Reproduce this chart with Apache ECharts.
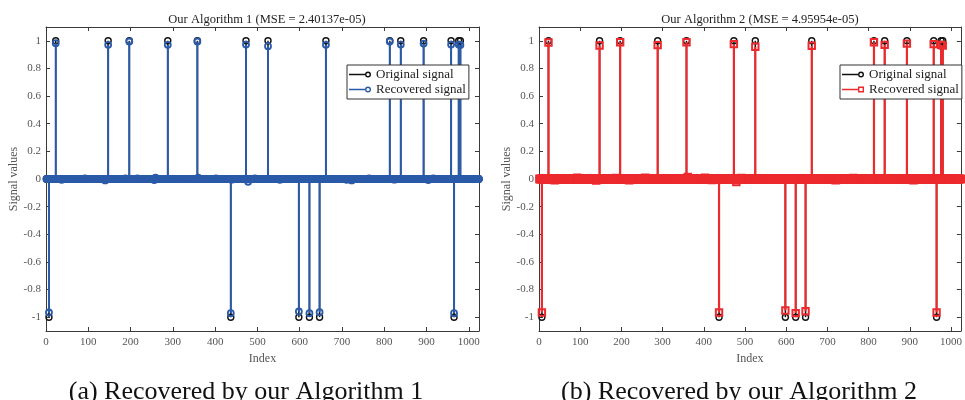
<!DOCTYPE html>
<html>
<head>
<meta charset="utf-8">
<script src="https://cdn.jsdelivr.net/npm/echarts@6.0.0/dist/echarts.min.js"></script>
<style>
  html, body { margin: 0; padding: 0; background: #fff; }
  #main { width: 965px; height: 400px; }
</style>
</head>
<body>
<div id="main"></div>
<script>
// signal length
var N = 1024;
// positions of the non-zero entries of the sparse signal
var spikeIdx = [7, 23, 147, 197, 288, 358, 437, 473, 525, 598, 623, 647, 662, 813, 839, 893, 958, 965, 976, 980];
var origVals = [-1, 1, 1, 1, 1, 1, -1, 1, 1, -1, -1, -1, 1, 1, 1, 1, 1, -1, 1, 1];
// recovered amplitudes at the spikes
var rec1Spikes = [-0.966, 0.983, 0.971, 0.995, 0.971, 0.995, -0.971, 0.973, 0.961, -0.959, -0.971, -0.964, 0.971, 0.995, 0.973, 0.98, 0.973, -0.971, 0.973, 0.97];
var rec2Spikes = [-0.966, 0.988, 0.966, 0.99, 0.969, 0.99, -0.966, 0.976, 0.957, -0.952, -0.971, -0.957, 0.964, 0.99, 0.971, 0.98, 0.976, -0.966, 0.971, 0.966];
// small residuals off the support
var noise1Idx = [37, 92, 140, 188, 216, 256, 259, 360, 402, 439, 478, 494, 553, 711, 723, 764, 824, 904, 916];
var noise1Vals = [-0.006, 0.005, -0.01, 0.005, 0.005, -0.008, 0.01, 0.01, 0.005, -0.005, -0.02, 0.005, -0.006, -0.006, -0.01, 0.005, -0.005, -0.008, 0.005];
var noise2Idx = [38, 93, 139, 188, 219, 258, 310, 361, 403, 420, 479, 491, 720, 763, 909];
var noise2Vals = [-0.01, 0.01, -0.012, 0.008, -0.01, 0.01, 0.005, 0.014, 0.01, -0.008, -0.022, 0.008, -0.01, 0.008, -0.01];

var titles = ['Our Algorithm 1 (MSE = 2.40137e-05)', 'Our Algorithm 2 (MSE = 4.95954e-05)'];
var captions = ['(a) Recovered by our Algorithm 1', '(b) Recovered by our Algorithm 2'];

var BLUE = '#2b5ba8';
var RED = '#ec2a2e';
var AXIS = '#3a3a3a';
var LABEL = '#555';
var SERIF = 'Liberation Serif';

function buildSignal(idx, vals, nIdx, nVals) {
    var s = [];
    for (var i = 0; i < N; i++) s.push(0);
    if (nIdx) {
        for (var k = 0; k < nIdx.length; k++) s[nIdx[k] - 1] = nVals[k];
    }
    for (var j = 0; j < idx.length; j++) s[idx[j] - 1] = vals[j];
    return s.map(function (v, i) { return [i + 1, v]; });
}

var orig = buildSignal(spikeIdx, origVals);
var rec1 = buildSignal(spikeIdx, rec1Spikes, noise1Idx, noise1Vals);
var rec2 = buildSignal(spikeIdx, rec2Spikes, noise2Idx, noise2Vals);

// stem: line from baseline to value + marker
function stem(color, lw, marker, mlw) {
    return function (params, api) {
        var x = api.value(0), y = api.value(1);
        var p0 = api.coord([x, 0]);
        var p1 = api.coord([x, y]);
        var kids = [];
        if (y !== 0) {
            kids.push({ type: 'line', shape: { x1: p0[0], y1: p0[1], x2: p1[0], y2: p1[1] },
                style: { stroke: color, lineWidth: lw } });
        }
        if (marker === 'circle') {
            kids.push({ type: 'circle', shape: { cx: p1[0], cy: p1[1], r: 3 },
                style: { fill: 'none', stroke: color, lineWidth: mlw } });
        } else {
            kids.push({ type: 'rect', shape: { x: p1[0] - 3.2, y: p1[1] - 3.2, width: 6.4, height: 6.4 },
                style: { fill: 'none', stroke: color, lineWidth: mlw } });
        }
        return { type: 'group', children: kids };
    };
}

var iconCircle = 'path://M0,3.3 L16,3.3 L16,4.7 L0,4.7 Z M16,4 A3,3 0 1,1 22,4 A3,3 0 1,1 16,4 Z M17.4,4 A1.6,1.6 0 1,0 20.6,4 A1.6,1.6 0 1,0 17.4,4 Z';
var iconSquare = 'path://M0,3.3 L16,3.3 L16,4.7 L0,4.7 Z M16,1 L22,1 L22,7 L16,7 Z M17.4,2.4 L17.4,5.6 L20.6,5.6 L20.6,2.4 Z';

var gridLefts = [46, 539];

function xAxes(g) {
    var base = {
        gridIndex: g, type: 'value', min: 0, max: N, interval: 100,
        axisLine: { show: true, onZero: false, lineStyle: { color: AXIS, width: 1 } },
        axisTick: { show: true, inside: true, length: 4, lineStyle: { color: AXIS } },
        splitLine: { show: false }
    };
    var bottom = Object.assign({}, base, {
        position: 'bottom',
        name: 'Index', nameLocation: 'middle', nameGap: 19,
        nameTextStyle: { fontFamily: SERIF, fontSize: 12, color: LABEL },
        axisLabel: {
            fontFamily: SERIF, fontSize: 11, color: LABEL, margin: 6,
            formatter: function (v) { return v % 100 === 0 ? String(v) : ''; }
        }
    });
    var top = Object.assign({}, base, { position: 'top', axisLabel: { show: false } });
    return [bottom, top];
}

function yAxes(g) {
    var base = {
        gridIndex: g, type: 'value', min: -1.1, max: 1.1, splitNumber: 11,
        axisLine: { show: true, onZero: false, lineStyle: { color: AXIS, width: 1 } },
        axisTick: { show: true, inside: true, length: 4, lineStyle: { color: AXIS } },
        splitLine: { show: false }
    };
    var left = Object.assign({}, base, {
        position: 'left',
        name: 'Signal values', nameLocation: 'middle', nameGap: 26,
        nameTextStyle: { fontFamily: SERIF, fontSize: 12, color: LABEL },
        axisLabel: {
            fontFamily: SERIF, fontSize: 11, color: LABEL, margin: 5,
            formatter: function (v) {
                if (Math.abs(Math.abs(v) - 1.1) < 1e-6) return '';
                return String(Math.round(v * 10) / 10);
            }
        }
    });
    var right = Object.assign({}, base, { position: 'right', axisLabel: { show: false } });
    return [left, right];
}

function legendFor(g, items) {
    return {
        orient: 'vertical',
        left: gridLefts[g] + 301, top: 65,
        padding: [3, 3, 3, 2],
        itemGap: 2,
        itemWidth: 22, itemHeight: 6,
        selectedMode: false,
        backgroundColor: '#fff',
        borderColor: '#333', borderWidth: 1, borderRadius: 0,
        textStyle: { fontFamily: SERIF, fontSize: 13, color: '#222' },
        formatter: function (n) { return n.replace(' (b)', ''); },
        data: items
    };
}

var chart = echarts.init(document.getElementById('main'), null, { renderer: 'canvas' });

var option = {
    animation: false,
    backgroundColor: '#fff',
    title: [
        { text: titles[0], left: 262, top: 8, textAlign: 'center',
          textStyle: { fontFamily: SERIF, fontSize: 12.5, fontWeight: 'normal', color: '#222' } },
        { text: titles[1], left: 755, top: 8, textAlign: 'center',
          textStyle: { fontFamily: SERIF, fontSize: 12.5, fontWeight: 'normal', color: '#222' } },
        { text: captions[0], left: 241, top: 374, textAlign: 'center',
          textStyle: { fontFamily: SERIF, fontSize: 26, fontWeight: 'normal', color: '#111' } },
        { text: captions[1], left: 734, top: 374, textAlign: 'center',
          textStyle: { fontFamily: SERIF, fontSize: 26, fontWeight: 'normal', color: '#111' } }
    ],
    grid: [
        { left: gridLefts[0], top: 27, width: 433, height: 304 },
        { left: gridLefts[1], top: 27, width: 433, height: 304 }
    ],
    xAxis: xAxes(0).concat(xAxes(1)),
    yAxis: yAxes(0).concat(yAxes(1)),
    legend: [
        legendFor(0, [
            { name: 'Original signal', icon: iconCircle },
            { name: 'Recovered signal', icon: iconCircle }
        ]),
        legendFor(1, [
            { name: 'Original signal (b)', icon: iconCircle },
            { name: 'Recovered signal (b)', icon: iconSquare }
        ])
    ],
    series: [
        { name: 'Original signal', type: 'custom', xAxisIndex: 0, yAxisIndex: 0,
          itemStyle: { color: '#111' }, renderItem: stem('#111', 1.5, 'circle', 1.4), data: orig },
        { name: 'Recovered signal', type: 'custom', xAxisIndex: 0, yAxisIndex: 0,
          itemStyle: { color: BLUE }, renderItem: stem(BLUE, 2, 'circle', 1.8), data: rec1 },
        { name: 'Original signal (b)', type: 'custom', xAxisIndex: 2, yAxisIndex: 2,
          itemStyle: { color: '#111' }, renderItem: stem('#111', 1.5, 'circle', 1.4), data: orig },
        { name: 'Recovered signal (b)', type: 'custom', xAxisIndex: 2, yAxisIndex: 2,
          itemStyle: { color: RED }, renderItem: stem(RED, 2.2, 'square', 2), data: rec2 }
    ]
};

chart.setOption(option);
</script>
</body>
</html>
